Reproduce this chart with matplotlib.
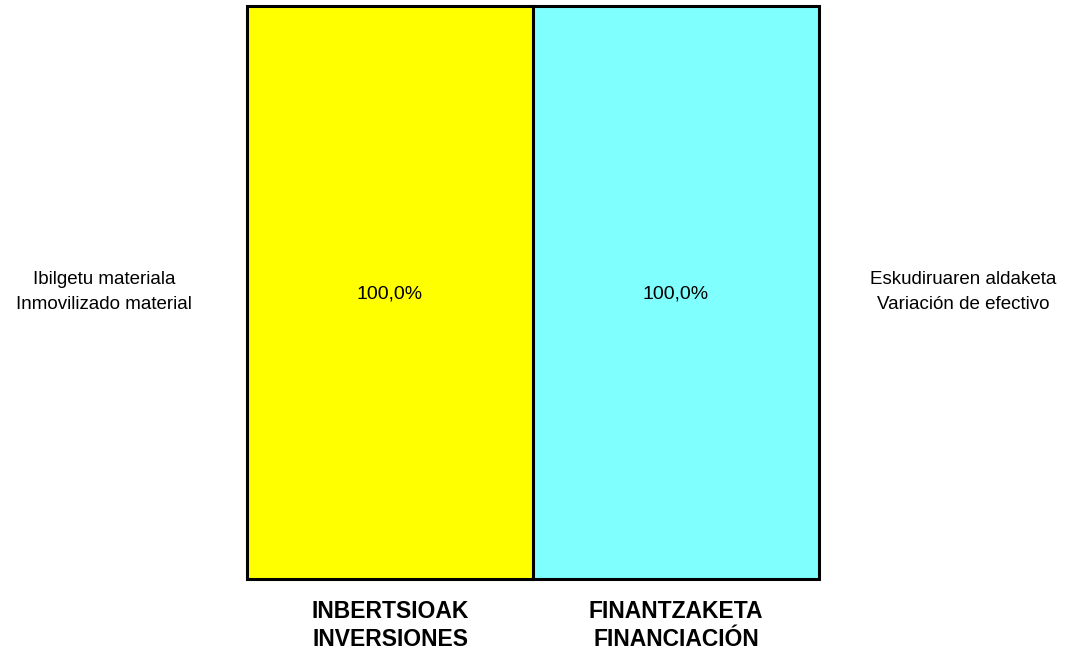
import matplotlib
matplotlib.use("Agg")
import matplotlib.pyplot as plt

categories = ["INBERTSIOAK\nINVERSIONES", "FINANTZAKETA\nFINANCIACIÓN"]
series_names = ["Ibilgetu materiala\nInmovilizado material", "Eskudiruaren aldaketa\nVariación de efectivo"]
values = [100.0, 100.0]
colors = ["#FFFF00", "#80FFFF"]

plt.rcParams['font.family'] = ['Liberation Sans', 'DejaVu Sans']

fig = plt.figure(figsize=(10.71, 6.58), dpi=100)
ax = fig.add_axes([247/1071, 1-579/658, (819-247)/1071, (579-6)/658])

x = list(range(len(categories)))
bars = ax.bar(x, values, width=1.0, color=colors, edgecolor="black", linewidth=2.2, clip_on=False)
for xi, v in zip(x, values):
    ax.text(xi, v/2 - 0.3, f"{v:.1f}%".replace(".", ","), ha="center", va="center", fontsize=14)

ax.set_xlim(-0.5, 1.5)
ax.set_ylim(0, 100)
ax.set_xticks(x)
ax.set_xticklabels(categories, fontsize=16.5, fontweight="bold", linespacing=1.3)
ax.tick_params(axis="x", length=0, pad=15)
ax.set_yticks([])
for s in ax.spines.values():
    s.set_visible(False)

fig.text(104/1071, 1-292/658, series_names[0], ha="center", va="center", fontsize=13.5, linespacing=1.55)
fig.text(963/1071, 1-292/658, series_names[1], ha="center", va="center", fontsize=13.5, linespacing=1.55)

fig.savefig("out.png", dpi=100)
